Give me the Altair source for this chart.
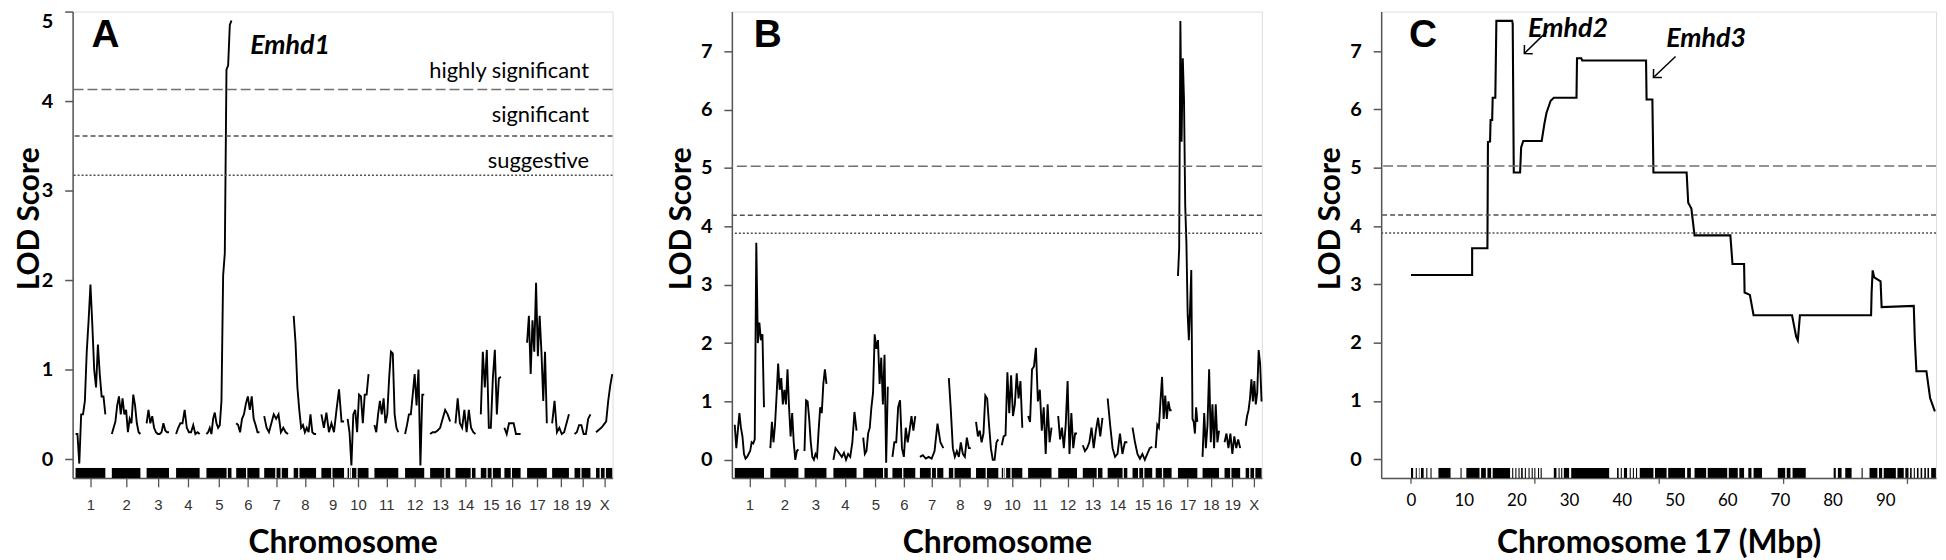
import altair as alt
import pandas as pd

# ---------------- data ----------------
chrom_names = ['1', '2', '3', '4', '5', '6', '7', '8', '9', '10', '11', '12', '13', '14', '15', '16', '17', '18', '19', 'X']
chrom_start = [0, 123, 241, 341, 444, 545, 640, 740, 834, 923, 1014, 1118, 1203, 1289, 1375, 1455, 1532, 1617, 1693, 1766]
chrom_end = [101, 220, 317, 421, 529, 624, 721, 816, 911, 994, 1095, 1183, 1271, 1357, 1443, 1510, 1599, 1674, 1747, 1821]

# LOD profiles (values spread evenly along each chromosome)
lod_A = [
    [0.28, 0.28, -0.05, 0.5, 0.5, 0.65, 1.2, 1.55, 1.95, 1.5, 1.0, 0.8, 1.28, 0.95, 0.7, 0.7, 0.5],
    [0.28, 0.35, 0.42, 0.6, 0.7, 0.5, 0.68, 0.5, 0.55, 0.3, 0.45, 0.4, 0.72, 0.6, 0.4, 0.3, 0.28],
    [0.4, 0.55, 0.4, 0.48, 0.35, 0.3, 0.28, 0.28, 0.3, 0.4, 0.32, 0.3, 0.3],
    [0.28, 0.35, 0.4, 0.4, 0.55, 0.35, 0.3, 0.3, 0.38, 0.28, 0.3, 0.28],
    [0.28, 0.3, 0.35, 0.28, 0.45, 0.52, 0.4, 0.35, 0.38, 0.65, 2.05, 2.3, 4.35, 4.4, 4.85, 4.9],
    [0.4, 0.38, 0.3, 0.45, 0.5, 0.62, 0.7, 0.55, 0.7, 0.45, 0.38, 0.3, 0.3],
    [0.48, 0.35, 0.3, 0.4, 0.5, 0.45, 0.5, 0.3, 0.35, 0.3, 0.28],
    [1.6, 1.3, 0.8, 0.55, 0.35, 0.38, 0.3, 0.35, 0.3, 0.5, 0.3, 0.28, 0.28],
    [0.5, 0.35, 0.52, 0.3, 0.4, 0.3, 0.55, 0.78, 0.42, 0.42],
    [0.45, 0.3, -0.07, 0.5, 0.55, 0.3, 0.72, 0.7, 0.4, 0.72, 0.72, 0.95],
    [0.38, 0.3, 0.5, 0.65, 0.5, 0.68, 0.4, 0.5, 0.9, 1.2, 1.18, 0.5, 0.35, 0.3],
    [0.28, 0.38, 0.5, 0.5, 0.72, 0.95, 0.6, 1.0, -0.07, 0.72, 0.72],
    [0.28, 0.3, 0.3, 0.32, 0.35, 0.45, 0.55, 0.5, 0.42],
    [0.4, 0.68, 0.4, 0.35, 0.55, 0.3, 0.55, 0.35, 0.3, 0.28],
    [0.5, 1.2, 0.8, 1.22, 0.35, 0.35, 0.9, 1.22, 0.5, 0.9, 0.92],
    [0.35, 0.28, 0.4, 0.4, 0.4, 0.28, 0.28, 0.28],
    [1.3, 1.6, 0.95, 1.55, 1.2, 1.97, 1.15, 1.6, 1.2, 0.65, 1.2, 0.4],
    [0.4, 0.65, 0.3, 0.35, 0.28, 0.3, 0.4, 0.5],
    [0.28, 0.3, 0.38, 0.38, 0.28, 0.28, 0.45, 0.5],
    [0.3, 0.32, 0.34, 0.36, 0.39, 0.42, 0.65, 0.82, 0.95],
]

lod_B = [
    [0.6, 0.2, 0.5, 0.8, 0.55, 0.4, 0.1, 0.02, 0.05, 0.1, 0.15, 0.3, 0.28, 0.35, 3.72, 2.0, 2.35, 2.05, 2.15, 0.9],
    [0.2, 0.65, 0.3, 0.6, 1.1, 1.65, 1.2, 1.4, 0.95, 1.2, 0.95, 1.55, 0.9, 0.4, 0.8, 0.3, 0.0, 0.15, 0.18],
    [0.15, 1.02, 1.0, 0.7, 0.3, 0.05, 0.0, 0.1, 0.05, 0.5, 0.9, 0.8, 1.3, 1.55, 1.3],
    [0.0, 0.2, 0.15, 0.1, 0.05, 0.12, 0.0, 0.1, 0.05, 0.3, 0.82, 0.5],
    [0.38, 0.1, 0.15, 0.45, 0.55, 0.9, 1.15, 2.15, 1.9, 2.05, 1.3, 1.75, 0.95, 1.8, -0.05, 1.25],
    [0.05, 0.3, 0.3, 0.9, 1.02, 0.2, 0.05, 0.55, 0.3, 0.5, 0.75, 0.5, 0.75],
    [0.05, 0.08, 0.02, 0.05, 0.02, 0.15, 0.62, 0.3, 0.2],
    [1.4, 0.85, 0.2, 0.05, 0.15, 0.05, 0.3, 0.1, 0.05, 0.38, 0.2, 0.2],
    [0.65, 0.4, 0.5, 0.3, 0.45, 1.1, 1.05, 0.6, 0.2, 0.0, 0.0, 0.3, 0.35],
    [0.25, 0.4, 0.42, 1.5, 0.8, 1.45, 0.75, 0.95, 1.48, 1.05, 1.35, 0.55],
    [0.75, 0.65, 1.55, 1.6, 1.92, 1.0, 1.2, 0.5, 0.9, 0.1, 0.95, 0.3, 0.55],
    [0.75, 0.35, 0.55, 0.2, 0.6, 1.35, 0.1, 0.8, 0.2, 0.45, 0.45],
    [0.25, 0.15, 0.2, 0.3, 0.55, 0.2, 0.5, 0.72, 0.4, 0.72],
    [1.05, 0.6, 0.2, 0.05, 0.1, 0.45, 0.1, 0.3, 0.3],
    [0.55, 0.3, 0.1, 0.02, 0.1, 0.0, 0.1, 0.2, 0.22],
    [0.2, 0.6, 0.55, 1.0, 1.42, 0.7, 1.1, 0.7, 1.0, 0.85, 0.85],
    [3.15, 3.62, 7.52, 5.45, 6.88, 6.17, 4.35, 3.7, 2.5, 2.05, 2.6, 3.25, 0.7, 0.65, 0.45, 0.9, 0.65],
    [0.05, 0.8, 0.2, 0.6, 1.55, 0.3, 0.95, 0.2, 0.95, 0.3, 0.5],
    [0.3, 0.45, 0.2, 0.45, 0.1, 0.4, 0.2, 0.35, 0.2],
    [0.58, 0.75, 0.85, 1.05, 1.38, 1.0, 1.35, 0.95, 1.15, 1.88, 1.65, 1.0],
]

# marker-map gaps (chromosome, fraction along chromosome)
rug_gap_chrom = ['5', '6', '7', '7', '8', '9', '10', '10', '10', '13', '14', '15', '15', '16', '19', 'X', 'X']
rug_gap_frac = [0.83, 0.45, 0.49, 0.71, 0.23, 0.46, 0.1, 0.18, 0.45, 0.74, 0.79, 0.31, 0.57, 0.43, 0.4, 0.26, 0.57]

thr_kind = ['highly significant', 'significant', 'suggestive']
thr_A = [4.13, 3.61, 3.17]
thr_BC = [5.03, 4.19, 3.88]
thr_label_y_A = [4.33, 3.84, 3.33]

# Chromosome 17 fine map (Mbp, LOD)
c17_mbp = [0.0, 11.6, 11.6, 14.5, 14.6, 15.0, 15.1, 15.4, 15.5, 16.0, 16.2, 19.2, 19.3, 19.5, 20.7, 20.9, 21.3,
           24.8, 25.3, 25.7, 26.5, 27.1, 31.4, 31.5, 32.3, 32.5, 44.6, 44.7, 45.8, 46.0, 52.3, 52.6, 53.2, 53.8,
           60.6, 61.0, 63.2, 63.3, 64.3, 65.0, 72.3, 73.1, 73.4, 73.8, 87.3, 87.4, 87.6, 87.9, 89.1, 89.3, 95.4,
           95.6, 95.9, 97.8, 98.5, 99.4]
c17_lod = [3.16, 3.16, 3.62, 3.62, 5.44, 5.45, 5.82, 5.82, 6.2, 6.2, 7.52, 7.52, 7.47, 4.92, 4.92, 5.35, 5.46,
           5.46, 5.75, 5.94, 6.15, 6.2, 6.2, 6.88, 6.88, 6.84, 6.84, 6.17, 6.17, 4.92, 4.92, 4.4, 4.3, 3.84,
           3.84, 3.35, 3.35, 2.86, 2.82, 2.47, 2.47, 2.1, 2.04, 2.47, 2.47, 2.86, 3.24, 3.12, 3.05, 2.61, 2.63,
           2.05, 1.51, 1.51, 1.05, 0.82]
c17_rug_start = [0, 0.9, 1.5, 1.9, 2.9, 3.7, 5.2, 9.4, 10.5, 13.3, 14.5, 15.5, 19.2, 19.8, 20.4, 20.9, 21.6, 22.3,
                 22.9, 23.4, 24.1, 24.6, 27.1, 28.0, 28.5, 29.0, 30.4, 39.1, 39.8, 40.4, 41.5, 42.1, 42.7, 43.4,
                 46.3, 48.8, 52.4, 53.8, 56.3, 60.3, 62.3, 64.0, 65.0, 69.6, 71.3, 72.4, 80.2, 81.0, 82.4, 85.5,
                 87.0, 88.8, 89.7, 92.3, 93.8, 94.7, 95.4, 96.0, 96.7, 97.4, 98.0, 98.7]
c17_rug_end = [0.4, 1.1, 1.6, 2.4, 3.1, 3.9, 7.5, 9.6, 13.0, 14.2, 15.2, 18.8, 19.4, 20.0, 20.6, 21.2, 21.8, 22.5,
               23.1, 23.6, 24.3, 24.8, 27.6, 28.2, 28.7, 30.0, 37.6, 39.4, 40.0, 41.0, 41.7, 42.3, 42.9, 46.0,
               48.5, 52.0, 53.1, 56.0, 60.0, 62.0, 63.2, 64.6, 66.6, 71.0, 72.0, 74.9, 80.6, 81.7, 83.6, 85.7,
               88.5, 89.4, 92.0, 93.5, 94.4, 95.0, 95.6, 96.3, 97.0, 97.7, 98.3, 99.6]
c17_tick_pos = [0, 23.5, 47.1, 70.7, 94.2]
c17_label_vals = [0, 10, 20, 30, 40, 50, 60, 70, 80, 90]

gene_C = ['Emhd2', 'Emhd3']
gene_C_x = [29.8, 56.0]
gene_C_y = [7.6, 7.2]
arrow_tail_x = [25.8, 50.2]
arrow_tail_y = [7.34, 6.91]
arrow_tip_x = [21.5, 46.0]
arrow_tip_y = [6.96, 6.55]

# ---------------- layout / style ----------------
H = 469
WA, WB, WC = 543, 533, 558
XDOM = [-10, 1822]
CDOM = [-5.66, 99.62]
BOLD = 'Lato'
LETTER_FONT = 'Liberation Sans'
TICK_FONT = 'Liberation Sans'
AX = '#555555'

centers = [(s + e) / 2 for s, e in zip(chrom_start, chrom_end)]
label_expr = "[" + ",".join("'%s'" % n for n in chrom_names) + "][indexof([" + \
    ",".join(repr(c) for c in centers) + "], datum.value)]"


def profile_df(lods):
    rows = []
    for name, s, e, vals in zip(chrom_names, chrom_start, chrom_end, lods):
        n = len(vals)
        for k, v in enumerate(vals):
            rows.append(dict(chrom=name, pos=s + (e - s) * k / (n - 1), lod=v, i=k))
    return pd.DataFrame(rows)


rug_df = pd.DataFrame(dict(chrom=chrom_names, start=chrom_start, end=chrom_end))
gap_pos = []
for c, f in zip(rug_gap_chrom, rug_gap_frac):
    j = chrom_names.index(c)
    gap_pos.append(chrom_start[j] + f * (chrom_end[j] - chrom_start[j]))
gap_df = pd.DataFrame(dict(pos=gap_pos))


def y_axis(vals, flush, tx):
    return alt.Axis(values=vals, title='LOD Score', titleFont=BOLD, titleFontSize=30, titleFontWeight='bold',
                    titleColor='black', titleAngle=270, titleBaseline='alphabetic', titleX=tx, titleY=208,
                    labelFont=BOLD, labelFontSize=20, labelFontWeight='bold', labelColor='black',
                    labelPadding=12, tickSize=8, tickColor=AX, tickWidth=1.5, domainColor=AX, domainWidth=1.5,
                    grid=False, labelFlush=flush)


def x_axis_chrom():
    return alt.Axis(values=centers, labelExpr=label_expr, title='Chromosome', titleFont=BOLD, titleFontSize=32,
                    titleFontWeight='bold', titleColor='black', titleBaseline='alphabetic', titleY=75,
                    labelFont=TICK_FONT, labelFontSize=15, labelColor='#333333', labelPadding=11,
                    labelFlush=False, labelOverlap=False, tickSize=9, tickColor=AX, tickWidth=1.3,
                    domainColor=AX, domainWidth=1.5, grid=False)


DASH = {'highly significant': [10, 4], 'significant': [5, 3], 'suggestive': [2, 2]}
DCOL = {'highly significant': '#707070', 'significant': '#505050', 'suggestive': '#505050'}


def letter_layer(letter, xpix):
    return alt.Chart(pd.DataFrame(dict(t=[letter]))).mark_text(
        font=LETTER_FONT, fontSize=39, fontWeight='bold', align='left', baseline='top', color='black').encode(
        text='t:N', x=alt.value(xpix), y=alt.value(5))


def genome_panel(lods, thr, ydom, yvals, width, letter, flush, tx, extra=None):
    X = alt.X('pos:Q', scale=alt.Scale(domain=XDOM, nice=False, zero=False), axis=x_axis_chrom())
    Y = alt.Y('lod:Q', scale=alt.Scale(domain=ydom, nice=False, zero=False), axis=y_axis(yvals, flush, tx))
    rug = alt.Chart(rug_df).mark_rect(color='black').encode(
        x=alt.X('start:Q', scale=alt.Scale(domain=XDOM, nice=False, zero=False), axis=x_axis_chrom()),
        x2='end:Q', y=alt.value(H - 10), y2=alt.value(H))
    gaps = alt.Chart(gap_df).mark_rule(color='white', strokeWidth=1.3).encode(
        x=X, y=alt.value(H - 10), y2=alt.value(H))
    line = alt.Chart(profile_df(lods)).mark_line(color='black', strokeWidth=1.9).encode(
        x=X, y=Y, detail='chrom:N', order='i:Q')
    layers = [rug, gaps, line]
    for kind, v in zip(thr_kind, thr):
        layers.append(alt.Chart(pd.DataFrame(dict(lod=[v]))).mark_rule(
            color=DCOL[kind], strokeDash=DASH[kind], strokeWidth=1.5).encode(y=Y))
    layers.append(letter_layer(letter, 19 if letter == 'A' else 22))
    if extra is not None:
        layers += extra(X, Y)
    return alt.layer(*layers).properties(width=width, height=H)


def extra_A(X, Y):
    lab = pd.DataFrame(dict(t=thr_kind, lod=thr_label_y_A, pos=[1742] * 3))
    t1 = alt.Chart(lab).mark_text(font=BOLD, fontSize=22, align='right', baseline='middle', color='black').encode(
        x=X, y=Y, text='t:N')
    gene = pd.DataFrame(dict(t=['Emhd1'], lod=[4.61], pos=[728]))
    t2 = alt.Chart(gene).mark_text(font=BOLD, fontSize=27, fontWeight='bold', fontStyle='italic',
                                   align='center', baseline='middle', color='black').encode(
        x=X, y=Y, text='t:N')
    return [t1, t2]


panel_A = genome_panel(lod_A, thr_A, [-0.21, 5.0], [0, 1, 2, 3, 4, 5], WA, 'A', True, -34, extra_A)
panel_B = genome_panel(lod_B, thr_BC, [-0.31, 7.68], [0, 1, 2, 3, 4, 5, 6, 7], WB, 'B', False, -42)

# ---- panel C ----
CX_SCALE = alt.Scale(domain=CDOM, nice=False, zero=False)
cx_axis = alt.Axis(values=c17_label_vals, title='Chromosome 17 (Mbp)', titleFont=BOLD, titleFontSize=32,
                   titleFontWeight='bold', titleColor='black', titleBaseline='alphabetic', titleY=75,
                   labelFont=BOLD, labelFontSize=17, labelColor='black', labelPadding=15, labelFlush=False,
                   labelOverlap=False, ticks=False, tickSize=0, domainColor=AX, domainWidth=1.5, grid=False)
CX = alt.X('mbp:Q', scale=CX_SCALE, axis=cx_axis)
CY = alt.Y('lod:Q', scale=alt.Scale(domain=[-0.32, 7.68], nice=False, zero=False),
           axis=y_axis([0, 1, 2, 3, 4, 5, 6, 7], False, -42))

c_line_df = pd.DataFrame(dict(mbp=c17_mbp, lod=c17_lod, i=list(range(len(c17_mbp)))))
c_rug_df = pd.DataFrame(dict(mbp=c17_rug_start, mbp2=c17_rug_end))
c_tick_df = pd.DataFrame(dict(mbp=c17_tick_pos))

c_layers = [
    alt.Chart(c_rug_df).mark_rect(color='black').encode(x=CX, x2='mbp2:Q', y=alt.value(H - 10), y2=alt.value(H)),
    alt.Chart(c_tick_df).mark_rule(color=AX, strokeWidth=1.3).encode(x=CX, y=alt.value(H), y2=alt.value(H + 6)),
    alt.Chart(c_line_df).mark_line(color='black', strokeWidth=2.1, clip=True).encode(x=CX, y=CY, order='i:Q'),
]
for kind, v in zip(thr_kind, thr_BC):
    c_layers.append(alt.Chart(pd.DataFrame(dict(lod=[v]))).mark_rule(
        color=DCOL[kind], strokeDash=DASH[kind], strokeWidth=1.5).encode(y=CY))
arrow_df = pd.DataFrame(dict(mbp=arrow_tail_x, lod=arrow_tail_y, mbp2=arrow_tip_x, lod2=arrow_tip_y))
c_layers.append(alt.Chart(arrow_df).mark_rule(color='black', strokeWidth=1.5).encode(
    x=CX, y=CY, x2='mbp2:Q', y2='lod2:Q'))
head_df = pd.DataFrame(dict(mbp=arrow_tip_x, lod=arrow_tip_y))
c_layers.append(alt.Chart(head_df).mark_point(
    shape='M -0.6 0.6 L 0 0 L 0.6 0.6', size=400, angle=226, filled=False, color='black',
    strokeWidth=1.5, opacity=1).encode(x=CX, y=CY))
gene_df = pd.DataFrame(dict(t=gene_C, mbp=gene_C_x, lod=gene_C_y))
c_layers.append(alt.Chart(gene_df.iloc[[0]]).mark_text(
    font=BOLD, fontSize=27, fontWeight='bold', fontStyle='italic', align='center', baseline='top',
    color='black').encode(x=CX, y=CY, text='t:N'))
c_layers.append(alt.Chart(gene_df.iloc[[1]]).mark_text(
    font=BOLD, fontSize=27, fontWeight='bold', fontStyle='italic', align='center', baseline='middle',
    color='black').encode(x=CX, y=CY, text='t:N'))
c_layers.append(letter_layer('C', 28))
panel_C = alt.layer(*c_layers).properties(width=WC, height=H)

chart = alt.hconcat(panel_A, panel_B, panel_C, spacing=120, bounds='flush').properties(
    padding={'left': 6, 'top': 0, 'right': 0, 'bottom': 0}
).configure_view(stroke=None).configure(background='white')

chart.save('out.html', embed_options={'renderer': 'svg', 'actions': False})
